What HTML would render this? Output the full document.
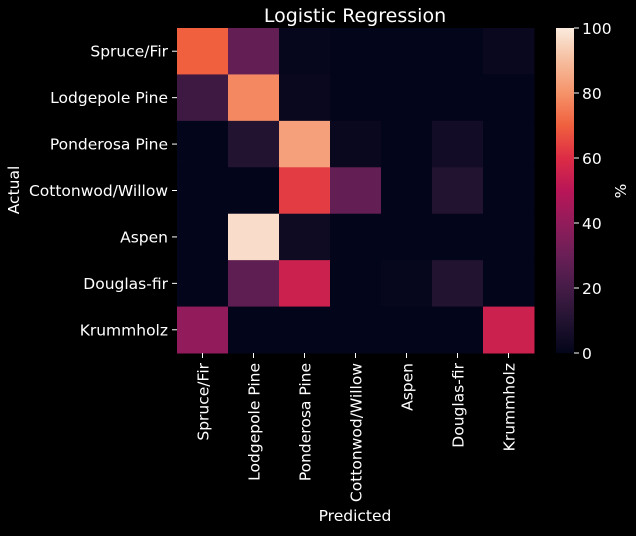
<!DOCTYPE html>
<html><head><meta charset="utf-8"><style>
body{margin:0;background:#000;width:636px;height:531px;overflow:hidden}
text{font-family:"DejaVu Sans",sans-serif;fill:#fff}
</style></head><body>
<svg id="chart" width="636" height="531">
<rect width="636" height="531" fill="#000"/>
<defs><linearGradient id="cbg" x1="0" y1="1" x2="0" y2="0">
<stop offset="0" stop-color="#03051A"/><stop offset="0.1" stop-color="#221331"/><stop offset="0.2" stop-color="#451C47"/><stop offset="0.3" stop-color="#6A1F56"/><stop offset="0.4" stop-color="#921C5B"/><stop offset="0.5" stop-color="#B91657"/><stop offset="0.6" stop-color="#DD2C45"/><stop offset="0.7" stop-color="#F0603E"/><stop offset="0.8" stop-color="#F5936A"/><stop offset="0.9" stop-color="#F6BE9F"/><stop offset="1" stop-color="#FAEBDD"/>
</linearGradient></defs>
<text x="355" y="22" font-size="19" text-anchor="middle">Logistic Regression</text>
<g id="cells"></g><g id="xt"></g><g id="yt"></g>
<rect x="556" y="28" width="18" height="325" fill="url(#cbg)"/>
<g id="cbt"></g>
<text x="355" y="521" font-size="15.5" text-anchor="middle">Predicted</text>
<text transform="translate(19,190) rotate(-90)" font-size="15.5" text-anchor="middle">Actual</text>
<text transform="translate(626,191) rotate(-90)" font-size="15.5" text-anchor="middle">%</text>
</svg>
<script>
const categories=["Spruce/Fir","Lodgepole Pine","Ponderosa Pine","Cottonwod/Willow","Aspen","Douglas-fir","Krummholz"];
const values=[
[70,28,1,0,0,0,2],
[18,78,2,0,0,0,0],
[0,10,83,2,0,5,0],
[0,0,63,28,0,10,0],
[0,97,4,0,0,0,0],
[0,27,55,0,1,10,0],
[40,0,0,0,0,0,55]];
const cbTicks=[0,20,40,60,80,100];
const stops=["#03051A","#221331","#451C47","#6A1F56","#921C5B","#B91657","#DD2C45","#F0603E","#F5936A","#F6BE9F","#FAEBDD"];
const NS="http://www.w3.org/2000/svg";
const X0=177,Y0=28,W=357,H=325,n=categories.length,cw=W/n,ch=H/n;
function h2r(h){return [1,3,5].map(i=>parseInt(h.substr(i,2),16));}
function color(v){let t=Math.max(0,Math.min(1,v/100))*10;let i=Math.min(9,Math.floor(t)),f=t-i;
let a=h2r(stops[i]),b=h2r(stops[i+1]);return "rgb("+a.map((c,k)=>Math.round(c+(b[k]-c)*f)).join(",")+")";}
function mk(tag,attrs,parent,txt){const e=document.createElementNS(NS,tag);for(const k in attrs)e.setAttribute(k,attrs[k]);if(txt!==undefined)e.textContent=txt;parent.appendChild(e);return e;}
const cells=document.getElementById('cells'),xt=document.getElementById('xt'),yt=document.getElementById('yt'),cbt=document.getElementById('cbt');
values.forEach((row,r)=>row.forEach((v,c)=>{
const e=mk('rect',{x:X0+c*cw,y:Y0+r*ch,width:cw+0.5,height:ch+0.5,fill:color(v)},cells);


}));
categories.forEach((cat,i)=>{
const cy=Y0+(i+0.5)*ch;
mk('line',{x1:X0-5,x2:X0,y1:cy,y2:cy,stroke:'#fff'},yt);
const t=mk('text',{x:X0-9,y:cy+5.5,'font-size':15.5,'text-anchor':'end'},yt,cat);


const cx=X0+(i+0.5)*cw;
mk('line',{x1:cx,x2:cx,y1:Y0+H,y2:Y0+H+5},xt);
xt.lastChild.setAttribute('stroke','#fff');
const u=mk('text',{transform:'translate('+(cx+6)+','+(Y0+H+10)+') rotate(-90)','font-size':15.5,'text-anchor':'end'},xt,cat);


});
cbTicks.forEach(v=>{
const y=Y0+H-v/100*H;
mk('line',{x1:574,x2:579,y1:y,y2:y,stroke:'#fff'},cbt);
const t=mk('text',{x:582,y:y+6,'font-size':15.5},cbt,v);


});
</script>
</body></html>
